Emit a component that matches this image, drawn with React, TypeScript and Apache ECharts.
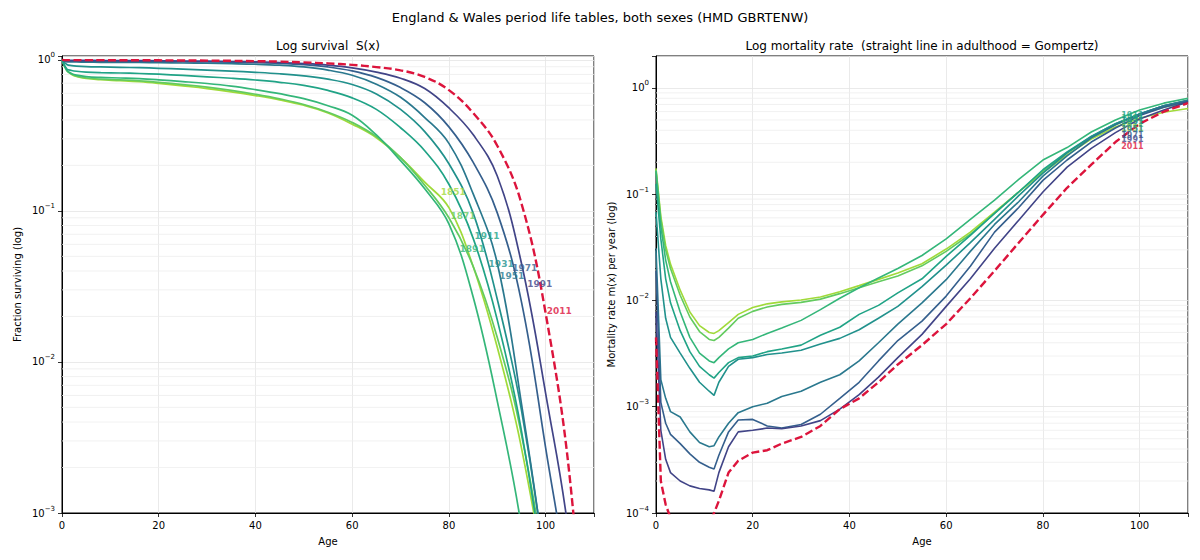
import React, { useEffect, useRef } from 'react';
import * as echarts from 'echarts';

// ---------- data ----------
const YEARS = ['1851', '1871', '1891', '1911', '1931', '1951', '1971', '1991'];
const REF_YEAR = '2011';
const COLORS = ['#a0da39', '#63cb5f', '#34b679', '#20a386', '#21918c', '#2a788e', '#355f8d', '#414487'];
const REF_COLOR = '#dc143c';

// Survival S(x)
const S_AGES = [0, 1, 2, 3, 5, 8, 12, 16, 20, 25, 30, 35, 40, 45, 50, 55, 60, 65, 70, 75, 80, 85, 90, 95, 100, 105, 110];
const S_1851 = [1, 0.85, 0.8, 0.775, 0.752, 0.738, 0.728, 0.716, 0.698, 0.672, 0.645, 0.614, 0.58, 0.543, 0.5, 0.445, 0.375, 0.305, 0.225, 0.155, 0.105, 0.043, 0.0125, 0.0027, 0.0003, 0.00001, 0.0000002];
const S_1871 = [1, 0.85, 0.805, 0.78, 0.758, 0.745, 0.736, 0.726, 0.71, 0.686, 0.66, 0.628, 0.592, 0.552, 0.506, 0.45, 0.385, 0.31, 0.225, 0.148, 0.09, 0.043, 0.0145, 0.0033, 0.00035, 0.00001, 0.0000002];
const S_1891 = [1, 0.85, 0.81, 0.792, 0.775, 0.765, 0.758, 0.75, 0.737, 0.718, 0.697, 0.67, 0.635, 0.597, 0.553, 0.497, 0.43, 0.318, 0.215, 0.14, 0.082, 0.027, 0.0055, 0.0008, 0.00004, 0.000001, 0.00000001];
const S_1911 = [1, 0.87, 0.85, 0.84, 0.83, 0.823, 0.818, 0.812, 0.803, 0.788, 0.772, 0.755, 0.735, 0.71, 0.677, 0.627, 0.56, 0.47, 0.355, 0.25, 0.15, 0.066, 0.019, 0.0035, 0.0003, 0.00001, 0.0000002];
const S_1931 = [1, 0.93, 0.916, 0.909, 0.902, 0.897, 0.892, 0.887, 0.879, 0.867, 0.854, 0.841, 0.827, 0.809, 0.783, 0.745, 0.687, 0.595, 0.47, 0.335, 0.205, 0.097, 0.026, 0.0048, 0.0004, 0.00001, 0.0000002];
const S_1951 = [1, 0.97, 0.968, 0.967, 0.965, 0.963, 0.962, 0.96, 0.957, 0.953, 0.949, 0.943, 0.935, 0.921, 0.897, 0.855, 0.79, 0.69, 0.565, 0.415, 0.28, 0.13, 0.045, 0.0053, 0.0004, 0.00001, 0.0000002];
const S_1971 = [1, 0.982, 0.981, 0.9805, 0.98, 0.979, 0.978, 0.977, 0.975, 0.972, 0.969, 0.965, 0.958, 0.947, 0.928, 0.897, 0.845, 0.765, 0.655, 0.52, 0.36, 0.21, 0.097, 0.025, 0.0027, 0.00025, 0.000005];
const S_1991 = [1, 0.992, 0.9912, 0.9908, 0.9903, 0.99, 0.9895, 0.9885, 0.986, 0.982, 0.979, 0.975, 0.969, 0.96, 0.945, 0.922, 0.885, 0.83, 0.755, 0.645, 0.48, 0.32, 0.17, 0.045, 0.0062, 0.00063, 0.00001];
const S_2011 = [1, 0.9956, 0.9953, 0.9951, 0.9949, 0.9947, 0.9944, 0.9938, 0.9925, 0.9905, 0.988, 0.985, 0.98, 0.973, 0.962, 0.947, 0.926, 0.895, 0.852, 0.77, 0.63, 0.445, 0.27, 0.112, 0.021, 0.0017, 0.00002];
const S_SERIES = [S_1851, S_1871, S_1891, S_1911, S_1931, S_1951, S_1971, S_1991];

// Mortality m(x)
const M_AGES = [0, 1, 2, 3, 5, 7, 9, 11, 12, 13, 15, 17, 20, 23, 26, 30, 34, 38, 42, 46, 50, 55, 60, 65, 70, 75, 80, 85, 90, 95, 100, 105, 110];
const M_1851 = [0.175, 0.062, 0.033, 0.022, 0.0125, 0.0078, 0.0058, 0.005, 0.0049, 0.0052, 0.0062, 0.0074, 0.0086, 0.0093, 0.0097, 0.0101, 0.0108, 0.0121, 0.0138, 0.0158, 0.0181, 0.0222, 0.0305, 0.044, 0.068, 0.105, 0.16, 0.235, 0.33, 0.43, 0.52, 0.59, 0.64];
const M_1871 = [0.17, 0.058, 0.03, 0.02, 0.0112, 0.007, 0.0051, 0.0043, 0.0042, 0.0045, 0.0055, 0.0068, 0.0079, 0.0087, 0.0092, 0.0096, 0.0103, 0.0116, 0.0132, 0.015, 0.017, 0.0212, 0.029, 0.042, 0.066, 0.105, 0.165, 0.245, 0.34, 0.45, 0.56, 0.66, 0.73];
const M_1891 = [0.165, 0.05, 0.024, 0.015, 0.0078, 0.0045, 0.0032, 0.0027, 0.0026, 0.0029, 0.0035, 0.004, 0.0043, 0.0049, 0.0055, 0.0065, 0.0082, 0.0105, 0.0132, 0.0163, 0.02, 0.0265, 0.038, 0.058, 0.088, 0.138, 0.21, 0.275, 0.385, 0.5, 0.62, 0.72, 0.8];
const M_1911 = [0.125, 0.038, 0.016, 0.0095, 0.0052, 0.0033, 0.0024, 0.002, 0.00186, 0.0021, 0.0026, 0.0029, 0.003, 0.0033, 0.0035, 0.0038, 0.0047, 0.0056, 0.0074, 0.009, 0.0118, 0.016, 0.026, 0.041, 0.066, 0.105, 0.17, 0.25, 0.35, 0.46, 0.57, 0.68, 0.76];
const M_1931 = [0.068, 0.016, 0.0068, 0.0045, 0.0032, 0.0023, 0.0017, 0.0014, 0.00128, 0.0017, 0.0024, 0.0028, 0.0029, 0.0031, 0.0032, 0.0034, 0.0039, 0.0044, 0.0053, 0.0068, 0.0088, 0.0135, 0.0215, 0.035, 0.058, 0.097, 0.158, 0.245, 0.35, 0.46, 0.57, 0.68, 0.77];
const M_1951 = [0.031, 0.0018, 0.0012, 0.0009, 0.0008, 0.00058, 0.00046, 0.00042, 0.00043, 0.00052, 0.0007, 0.00088, 0.001, 0.00108, 0.00125, 0.0014, 0.0017, 0.002, 0.0027, 0.004, 0.006, 0.0095, 0.0157, 0.029, 0.052, 0.085, 0.148, 0.23, 0.34, 0.45, 0.57, 0.68, 0.76];
const M_1971 = [0.019, 0.0011, 0.0007, 0.00055, 0.00045, 0.00036, 0.0003, 0.00027, 0.00026, 0.00035, 0.00058, 0.00075, 0.00076, 0.00066, 0.00063, 0.00068, 0.00085, 0.0012, 0.0017, 0.0027, 0.0042, 0.0064, 0.011, 0.021, 0.044, 0.075, 0.135, 0.21, 0.31, 0.42, 0.55, 0.66, 0.75];
const M_1991 = [0.0078, 0.0006, 0.00032, 0.00024, 0.0002, 0.00018, 0.00017, 0.000165, 0.00016, 0.00024, 0.00042, 0.00058, 0.0006, 0.00063, 0.00062, 0.00066, 0.00074, 0.00095, 0.0013, 0.0019, 0.0029, 0.0048, 0.0088, 0.016, 0.031, 0.057, 0.105, 0.18, 0.27, 0.38, 0.51, 0.62, 0.74];
const M_2011 = [0.0045, 0.0002, 0.00012, 0.00009, 0.00008, 0.00007, 0.00007, 0.00008, 0.0001, 0.00013, 0.00024, 0.00031, 0.00037, 0.00039, 0.00045, 0.00052, 0.00066, 0.00095, 0.0012, 0.0017, 0.0025, 0.0038, 0.006, 0.0105, 0.019, 0.035, 0.064, 0.115, 0.19, 0.31, 0.46, 0.6, 0.72];
const M_SERIES = [M_1851, M_1871, M_1891, M_1911, M_1931, M_1951, M_1971, M_1991];

// Year labels (order: YEARS then 2011)
const LEFT_LABEL_AGES = [80.9, 82.9, 84.8, 87.9, 90.8, 93.0, 95.7, 98.8, 102.8];
const LEFT_LABEL_VALUES = [0.134, 0.0927, 0.0558, 0.0683, 0.0446, 0.0371, 0.0417, 0.0327, 0.0218];
const RIGHT_LABEL_AGES = [98.5, 98.5, 98.5, 98.5, 98.5, 98.5, 98.5, 98.5, 98.5];
const RIGHT_LABEL_VALUES = [0.42, 0.458, 0.511, 0.545, 0.479, 0.403, 0.361, 0.324, 0.28];

const LEFT_DECADES = [0.001, 0.01, 0.1];
const RIGHT_DECADES = [0.0001, 0.001, 0.01, 0.1, 1];
const MINOR_MULTIPLIERS = [2, 3, 4, 5, 6, 7, 8, 9];

const TITLE = 'England & Wales period life tables, both sexes (HMD GBRTENW)';
const LEFT_TITLE = 'Log survival\u00a0\u00a0S(x)';
const RIGHT_TITLE = 'Log mortality rate\u00a0\u00a0(straight line in adulthood = Gompertz)';

const FONT = 'DejaVu Sans';

function minorValues(decades: number[], max: number) {
  const out: number[] = [];
  decades.forEach((d) => MINOR_MULTIPLIERS.forEach((m) => {
    const v = d * m;
    if (v < max) out.push(v);
  }));
  return out;
}

function logLabel(v: number) {
  const e = Math.log10(v);
  const r = Math.round(e);
  if (Math.abs(e - r) > 1e-6) return '';
  const s = r < 0 ? '\u2212' + String(-r) : String(r);
  return '{b|10}{s|' + s + '}';
}

const App: React.FC = () => {
  const ref = useRef<HTMLDivElement>(null);

  useEffect(() => {
    if (!ref.current) return;
    const chart = echarts.init(ref.current, undefined, { renderer: 'svg' });

    const ALL_YEARS = [...YEARS, REF_YEAR];
    const ALL_COLORS = [...COLORS, REF_COLOR];

    const xAxisBase = (gridIndex: number) => ({
      gridIndex,
      type: 'value',
      min: 0,
      max: 110,
      interval: 20,
      name: 'Age',
      nameLocation: 'middle',
      nameGap: 23,
      nameTextStyle: { fontSize: 10, color: '#000', fontFamily: FONT },
      axisLine: { show: true, onZero: false, lineStyle: { color: '#000', width: 1 } },
      axisTick: { show: true, length: 4, lineStyle: { color: '#000', width: 0.8 } },
      axisLabel: {
        fontSize: 10, color: '#000', margin: 7, fontFamily: FONT,
        formatter: (v: number) => (v % 20 === 0 ? String(v) : ''),
      },
      splitLine: { show: true, lineStyle: { color: '#e4e4e4', width: 0.8 } },
    });

    const yAxisBase = (gridIndex: number, min: number, max: number, name: string) => ({
      gridIndex,
      type: 'log',
      logBase: 10,
      min,
      max,
      name,
      nameLocation: 'middle',
      nameGap: 40,
      nameTextStyle: { fontSize: 10, color: '#000', fontFamily: FONT },
      axisLine: { show: true, onZero: false, lineStyle: { color: '#000', width: 1 } },
      axisTick: { show: true, length: 4, lineStyle: { color: '#000', width: 0.8 } },
      axisLabel: {
        color: '#000', margin: 7, fontFamily: FONT,
        formatter: logLabel,
        rich: {
          b: { fontSize: 10, lineHeight: 16, fontFamily: FONT, color: '#000' },
          s: { fontSize: 7, lineHeight: 9, verticalAlign: 'top', fontFamily: FONT, color: '#000' },
        },
      },
      splitLine: { show: true, lineStyle: { color: '#e4e4e4', width: 0.8 } },
    });

    const series: any[] = [];

    // minor grid lines + minor ticks
    const addMinor = (axisIdx: number, decades: number[], max: number) => {
      minorValues(decades, max).forEach((v) => {
        series.push({
          type: 'line', xAxisIndex: axisIdx, yAxisIndex: axisIdx,
          data: [[0, v], [110, v]], symbol: 'none', silent: true, z: 1,
          lineStyle: { color: '#eeeeee', width: 0.8 },
        });
        series.push({
          type: 'line', xAxisIndex: axisIdx, yAxisIndex: axisIdx,
          data: [[-0.45, v], [0, v]], symbol: 'none', silent: true, z: 6, clip: false,
          lineStyle: { color: '#000', width: 0.6 },
        });
      });
    };
    addMinor(0, LEFT_DECADES, 1.06);
    addMinor(1, RIGHT_DECADES, 2);

    YEARS.forEach((y, i) => {
      series.push({
        name: y, type: 'line', xAxisIndex: 0, yAxisIndex: 0,
        data: S_AGES.map((a, j) => [a, S_SERIES[i][j]]),
        symbol: 'none', smooth: 0.4, silent: true, z: 3, clip: true,
        lineStyle: { color: COLORS[i], width: 1.7 },
      });
      series.push({
        name: y, type: 'line', xAxisIndex: 1, yAxisIndex: 1,
        data: M_AGES.map((a, j) => [a, M_SERIES[i][j]]),
        symbol: 'none', smooth: false, silent: true, z: 3, clip: true,
        lineStyle: { color: COLORS[i], width: 1.6 },
      });
    });
    series.push({
      name: REF_YEAR, type: 'line', xAxisIndex: 0, yAxisIndex: 0,
      data: S_AGES.map((a, j) => [a, S_2011[j]]),
      symbol: 'none', smooth: 0.4, silent: true, z: 4, clip: true,
      lineStyle: { color: REF_COLOR, width: 2.4, type: [8, 3.5] },
    });
    series.push({
      name: REF_YEAR, type: 'line', xAxisIndex: 1, yAxisIndex: 1,
      data: M_AGES.map((a, j) => [a, M_2011[j]]),
      symbol: 'none', smooth: false, silent: true, z: 4, clip: true,
      lineStyle: { color: REF_COLOR, width: 2.4, type: [8, 3.5] },
    });

    // year labels
    series.push({
      type: 'scatter', xAxisIndex: 0, yAxisIndex: 0, silent: true, z: 7,
      symbolSize: 1, itemStyle: { color: 'rgba(0,0,0,0)' },
      label: { show: true, position: 'inside', fontSize: 9, fontWeight: 'bold', fontFamily: FONT },
      data: LEFT_LABEL_AGES.map((a, i) => ({
        value: [a, LEFT_LABEL_VALUES[i]],
        label: { formatter: ALL_YEARS[i], color: ALL_COLORS[i] },
      })),
    });
    series.push({
      type: 'scatter', xAxisIndex: 1, yAxisIndex: 1, silent: true, z: 7,
      symbolSize: 1, itemStyle: { color: 'rgba(0,0,0,0)' },
      label: { show: true, position: 'inside', fontSize: 8, fontWeight: 'bold', fontFamily: FONT },
      data: RIGHT_LABEL_AGES.map((a, i) => ({
        value: [a, RIGHT_LABEL_VALUES[i]],
        label: { formatter: ALL_YEARS[i], color: ALL_COLORS[i] },
      })),
    });

    const option: any = {
      animation: false,
      backgroundColor: '#ffffff',
      textStyle: { fontFamily: FONT },
      graphic: [
        { type: 'text', x: 600, y: 17, style: { text: TITLE, fontSize: 13, fontFamily: FONT, fill: '#000', textAlign: 'center', textVerticalAlign: 'middle' } },
        { type: 'text', x: 328, y: 46, style: { text: LEFT_TITLE, fontSize: 12, fontFamily: FONT, fill: '#000', textAlign: 'center', textVerticalAlign: 'middle' } },
        { type: 'text', x: 922, y: 46, style: { text: RIGHT_TITLE, fontSize: 12, fontFamily: FONT, fill: '#000', textAlign: 'center', textVerticalAlign: 'middle' } },
      ],
      grid: [
        { left: 62, top: 56, width: 532, height: 457, show: true, borderColor: '#000', borderWidth: 1, backgroundColor: 'transparent' },
        { left: 656, top: 56, width: 532, height: 457, show: true, borderColor: '#000', borderWidth: 1, backgroundColor: 'transparent' },
      ],
      xAxis: [xAxisBase(0), xAxisBase(1)],
      yAxis: [
        yAxisBase(0, 0.001, 1.06, 'Fraction surviving (log)'),
        yAxisBase(1, 0.0001, 2, 'Mortality rate m(x) per year (log)'),
      ],
      series,
    };

    chart.setOption(option);
    return () => chart.dispose();
  }, []);

  return (
    <div
      ref={ref}
      style={{ position: 'fixed', left: 0, top: 0, width: 1200, height: 560, background: '#fff' }}
    />
  );
};

export default App;
